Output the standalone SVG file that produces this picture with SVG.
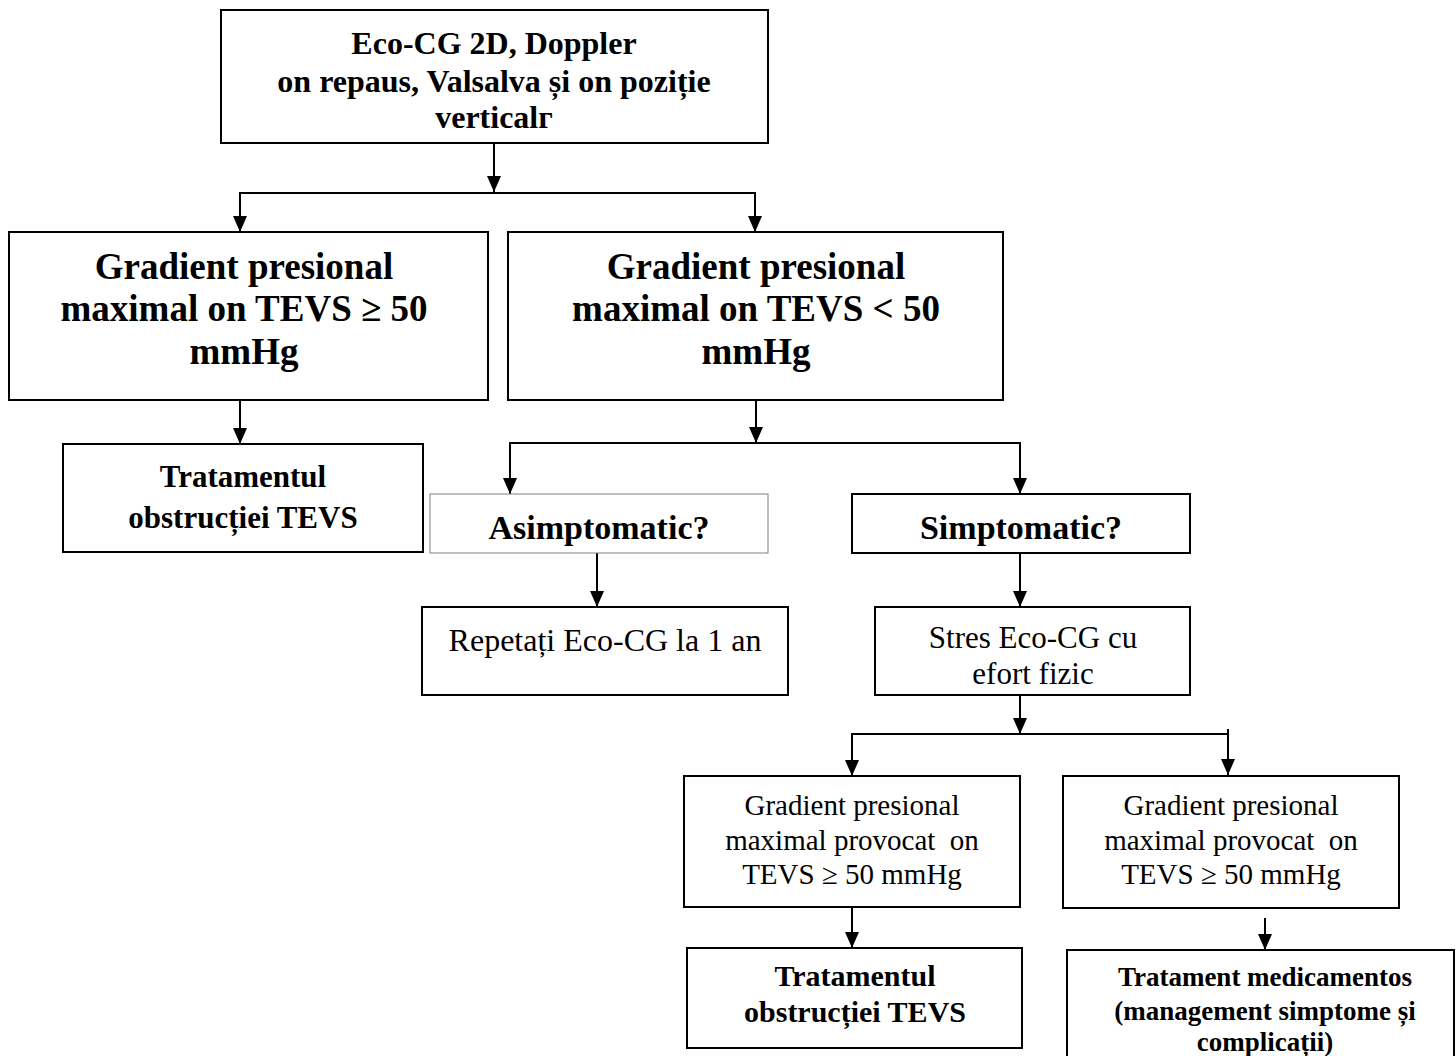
<svg xmlns="http://www.w3.org/2000/svg" width="1456" height="1056" viewBox="0 0 1456 1056">
<style>
.box{fill:#fff;stroke:#000;stroke-width:2}
.thin{fill:#fff;stroke:#808080;stroke-width:1}
.b{font-family:"Liberation Serif","Times New Roman",serif;font-weight:bold;fill:#000;text-anchor:middle}
.r{font-family:"Liberation Serif","Times New Roman",serif;fill:#000;text-anchor:middle}
.c{fill:none;stroke:#000;stroke-width:2}
</style>
<defs>
<marker id="ah" viewBox="0 0 16 14" refX="16" refY="7" markerWidth="16" markerHeight="14" markerUnits="userSpaceOnUse" orient="auto">
<path d="M0,0 L16,7 L0,14 Z" fill="#000"/>
</marker>
</defs>
<rect width="1456" height="1056" fill="#fff"/>
<g id="connectors">
<line class="c" x1="494" y1="143" x2="494" y2="192" marker-end="url(#ah)"/>
<polyline class="c" points="240,215 240,193 755,193 755,215"/>
<line class="c" x1="240" y1="212" x2="240" y2="232" marker-end="url(#ah)"/>
<line class="c" x1="755" y1="212" x2="755" y2="232" marker-end="url(#ah)"/>
<line class="c" x1="240" y1="400" x2="240" y2="444" marker-end="url(#ah)"/>
<line class="c" x1="756" y1="400" x2="756" y2="443" marker-end="url(#ah)"/>
<polyline class="c" points="510,475 510,443 1020,443 1020,475"/>
<line class="c" x1="510" y1="472" x2="510" y2="494" marker-end="url(#ah)"/>
<line class="c" x1="1020" y1="472" x2="1020" y2="494" marker-end="url(#ah)"/>
<line class="c" x1="597" y1="553" x2="597" y2="607" marker-end="url(#ah)"/>
<line class="c" x1="1020" y1="553" x2="1020" y2="607" marker-end="url(#ah)"/>
<line class="c" x1="1020" y1="695" x2="1020" y2="734" marker-end="url(#ah)"/>
<polyline class="c" points="852,760 852,734 1228,734"/>
<line class="c" x1="1228" y1="729" x2="1228" y2="775" marker-end="url(#ah)"/>
<line class="c" x1="852" y1="755" x2="852" y2="776" marker-end="url(#ah)"/>
<line class="c" x1="852" y1="907" x2="852" y2="948" marker-end="url(#ah)"/>
<line class="c" x1="1265" y1="918" x2="1265" y2="950" marker-end="url(#ah)"/>
</g>
<g id="n1">
<rect class="box" x="221" y="10" width="547" height="133"/>
<text class="b" font-size="32" x="494" y="54">Eco-CG 2D, Doppler</text>
<text class="b" font-size="32" x="494" y="92">on repaus, Valsalva și on poziție</text>
<text class="b" font-size="32" x="494" y="128">verticalг</text>
</g>
<g id="n2">
<rect class="box" x="9" y="232" width="479" height="168"/>
<text class="b" font-size="37" x="244" y="279">Gradient presional</text>
<text class="b" font-size="37" x="244" y="321">maximal on TEVS ≥ 50</text>
<text class="b" font-size="37" x="244" y="364">mmHg</text>
</g>
<g id="n3">
<rect class="box" x="508" y="232" width="495" height="168"/>
<text class="b" font-size="37" x="756" y="279">Gradient presional</text>
<text class="b" font-size="37" x="756" y="321">maximal on TEVS &lt; 50</text>
<text class="b" font-size="37" x="756" y="364">mmHg</text>
</g>
<g id="n4">
<rect class="box" x="63" y="444" width="360" height="108"/>
<text class="b" font-size="31" x="243" y="487">Tratamentul</text>
<text class="b" font-size="31" x="243" y="528">obstrucției TEVS</text>
</g>
<g id="n5">
<rect class="thin" x="430" y="494" width="338" height="59"/>
<text class="b" font-size="34" x="599" y="539">Asimptomatic?</text>
</g>
<g id="n6">
<rect class="box" x="852" y="494" width="338" height="59"/>
<text class="b" font-size="34" x="1021" y="539">Simptomatic?</text>
</g>
<g id="n7">
<rect class="box" x="422" y="607" width="366" height="88"/>
<text class="r" font-size="32" x="605" y="651">Repetați Eco-CG la 1 an</text>
</g>
<g id="n8">
<rect class="box" x="875" y="607" width="315" height="88"/>
<text class="r" font-size="31" x="1033" y="648">Stres Eco-CG cu</text>
<text class="r" font-size="31" x="1033" y="684">efort fizic</text>
</g>
<g id="n9">
<rect class="box" x="684" y="776" width="336" height="131"/>
<text class="r" font-size="29" x="852" y="815">Gradient presional</text>
<text class="r" font-size="29" x="852" y="850">maximal provocat&#160; on</text>
<text class="r" font-size="29" x="852" y="884">TEVS ≥ 50 mmHg</text>
</g>
<g id="n10">
<rect class="box" x="1063" y="776" width="336" height="132"/>
<text class="r" font-size="29" x="1231" y="815">Gradient presional</text>
<text class="r" font-size="29" x="1231" y="850">maximal provocat&#160; on</text>
<text class="r" font-size="29" x="1231" y="884">TEVS ≥ 50 mmHg</text>
</g>
<g id="n11">
<rect class="box" x="687" y="948" width="335" height="100"/>
<text class="b" font-size="30" x="855" y="986">Tratamentul</text>
<text class="b" font-size="30" x="855" y="1022">obstrucției TEVS</text>
</g>
<g id="n12">
<rect class="box" x="1067" y="950" width="387" height="120"/>
<text class="b" font-size="27" x="1265" y="986">Tratament medicamentos</text>
<text class="b" font-size="27" x="1265" y="1020">(management simptome și</text>
<text class="b" font-size="27" x="1265" y="1051">complicații)</text>
</g>
</svg>
